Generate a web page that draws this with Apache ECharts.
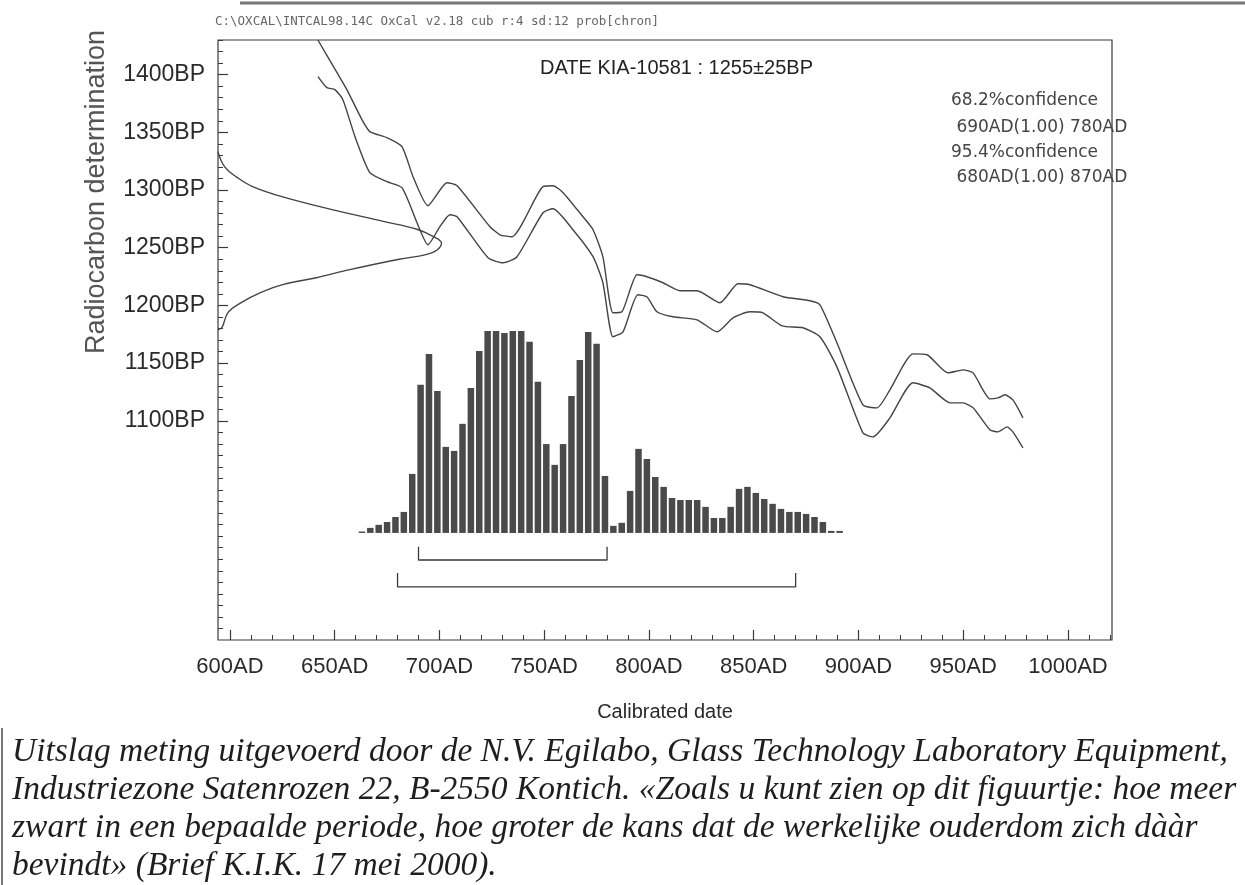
<!DOCTYPE html>
<html><head><meta charset="utf-8">
<script src="https://cdn.jsdelivr.net/npm/echarts@6/dist/echarts.min.js"></script>
<style>html,body{margin:0;padding:0;background:#fff}#c{width:1245px;height:885px}</style>
</head><body><div id="c"></div>
<script>
// ---- data ----
const xTickLabels = [600, 650, 700, 750, 800, 850, 900, 950, 1000];
const yTickLabels = [1100, 1150, 1200, 1250, 1300, 1350, 1400];

// calibration curve (upper / lower 1-sigma band)
const upperYears = [642,651.1,655.8,663,666.8,674.9,682.1,687.4,694.5,703.6,708.4,724.1,728.9,734.6,749.4,754.2,759,768.5,773.3,778,782.8,787.1,794.3,799,806.7,814.8,822.9,833.9,842.5,848.2,864,876.8,881.6,889.7,902.1,908.8,915,926,932.7,942.7,949.9,954.7,962.8,966.6,969.9,973.7,978.5];
const upperBP = [1430,1401.7,1387,1361,1350.6,1345.4,1337.6,1311.5,1286.4,1306.3,1303.7,1268.2,1261.2,1259.5,1302.9,1303.7,1297.7,1276.8,1265.6,1242.2,1193.6,1194.5,1226.5,1224.8,1219.6,1212.7,1212.7,1202.3,1218.7,1217.9,1207.5,1204,1200.5,1167.6,1113.8,1111.2,1126.8,1158,1157.2,1141.5,1144.1,1141.5,1119,1119.9,1122.5,1118.1,1102.5];
const lowerYears = [642,646.3,650.1,653.9,659.7,666.8,674.9,682.1,689.3,694.5,700.2,705,708.4,723.2,730.3,737,749.4,754.2,763.7,773.3,778,782.8,787.6,794.7,799,803.8,811.5,822.9,832.5,840.1,848.2,854.4,863.5,873.5,881.6,889.7,902.1,906.9,915,926,934.1,943.7,949.9,954.7,962.8,966.6,970.9,973.7,978.5];
const lowerBP = [1398.3,1388.7,1387,1378.3,1346.2,1315,1307.2,1302,1271.6,1252.6,1268.2,1278.6,1276.8,1241.3,1236.9,1242.2,1280.3,1283.8,1265.6,1242.2,1219.6,1172.8,1177.1,1209.2,1207.5,1194.5,1190.1,1187.5,1177.1,1189.2,1194.5,1193.6,1182.3,1180.6,1172.8,1146.7,1089.5,1086,1102.5,1132.9,1128.5,1115.5,1115.5,1111.2,1092.1,1090.4,1094.7,1090.4,1076.5];

// radiocarbon measurement distribution (BP, relative probability)
const probBP = [1333,1320,1311,1303,1294,1283,1273,1266,1260,1254,1248,1244,1240,1231,1224,1218,1211,1202,1194,1181,1179];
const probValue = [0,0.03,0.085,0.155,0.29,0.51,0.735,0.89,0.96,1.0,0.98,0.93,0.81,0.59,0.44,0.29,0.19,0.10,0.045,0.018,0];

// calibrated date histogram (bin centre year AD, relative probability)
const binYears = [663,667,671,675,679,683,687,691,695,699,703,707,711,715,719,723,727,731,735,739,743,747,751,755,759,763,767,771,775,779,783,787,791,795,799,803,807,811,815,819,823,827,831,835,839,843,847,851,855,859,863,867,871,875,879,883,887,891];
const binProb = [0.007,0.025,0.04,0.054,0.079,0.104,0.292,0.733,0.886,0.703,0.426,0.406,0.54,0.718,0.901,1,1,0.99,1,1,0.946,0.748,0.44,0.337,0.44,0.678,0.856,0.995,0.936,0.282,0.035,0.05,0.208,0.416,0.366,0.277,0.228,0.173,0.163,0.163,0.163,0.129,0.074,0.074,0.129,0.218,0.228,0.198,0.168,0.144,0.119,0.104,0.104,0.094,0.079,0.054,0.01,0.01];

// confidence ranges (AD)
const range68 = [690, 780];
const range95 = [680, 870];

const headerText = 'C:\\OXCAL\\INTCAL98.14C OxCal v2.18 cub r:4 sd:12 prob[chron]';
const titleText = 'DATE KIA-10581 : 1255\u00B125BP';
const confLines = ['68.2%confidence', ' 690AD(1.00) 780AD', '95.4%confidence', ' 680AD(1.00) 870AD'];
const xAxisTitle = 'Calibrated date';
const yAxisTitle = 'Radiocarbon determination';
const captionLines = [
  'Uitslag meting uitgevoerd door de N.V. Egilabo, Glass Technology Laboratory Equipment,',
  'Industriezone Satenrozen 22, B-2550 Kontich. \u00ABZoals u kunt zien op dit figuurtje: hoe meer',
  'zwart in een bepaalde periode, hoe groter de kans dat de werkelijke ouderdom zich d\u00E0\u00E0r',
  'bevindt\u00BB (Brief K.I.K. 17 mei 2000).'
];

// ---- chart ----
const ink = '#3a3a3a';
const X_MIN = 594.3, X_MAX = 1021, Y_MIN = 910, Y_MAX = 1430;
const xMinor = []; for (let v = 600; v <= 1020; v += 10) xMinor.push(v);
const yMinor = []; for (let v = 920; v <= 1430; v += 10) yMinor.push(v);

const zip = (a, b) => a.map((v, i) => [v, b[i]]);
const chart = echarts.init(document.getElementById('c'), null, {renderer: 'canvas'});

function bracket(r, top, bottom) {
  return {
    type: 'line', xAxisIndex: 0, yAxisIndex: 2, symbol: 'none', silent: true,
    lineStyle: {color: ink, width: 1.3},
    data: [[r[0], top], [r[0], bottom], [r[1], bottom], [r[1], top]]
  };
}

const txt = (x, y, text, font, extra) => Object.assign({
  type: 'text', x: x, y: y, silent: true,
  style: Object.assign({text: text, font: font, fill: '#2a2a2a', align: 'left', verticalAlign: 'middle', textAlign: 'left', textVerticalAlign: 'middle'}, extra || {})
});

const graphics = [
  {type: 'line', silent: true, shape: {x1: 240, y1: 3, x2: 1245, y2: 3}, style: {stroke: '#777', lineWidth: 3}},
  {type: 'line', silent: true, shape: {x1: 2, y1: 728, x2: 2, y2: 885}, style: {stroke: '#777', lineWidth: 2}},
  txt(215, 22, headerText, '12.5px "DejaVu Sans Mono"', {fill: '#666'}),
  txt(540, 68, titleText, '20px "Liberation Sans"', {fill: '#222'}),
  txt(665, 712, xAxisTitle, '20px "Liberation Sans"', {align: 'center', textAlign: 'center'}),
  Object.assign(txt(97, 192, yAxisTitle, '27px "Liberation Sans"', {align: 'center', textAlign: 'center', fill: '#555'}), {rotation: Math.PI / 2})
];
const confY = [101, 128, 153, 178];
confLines.forEach((t, i) => graphics.push(txt(951, confY[i], t, '17px "DejaVu Sans"', {fill: '#444'})));
const capY = [752, 790, 828, 866];
captionLines.forEach((t, i) => graphics.push(txt(12, capY[i], t, 'italic 33.5px "Liberation Serif"', {fill: '#1e1e1e'})));

const lbl = {fontSize: 23, fontFamily: 'Liberation Sans', color: '#2a2a2a'};
chart.setOption({
  animation: false,
  backgroundColor: '#fff',
  grid: {left: 218, right: 133, top: 40, bottom: 245, show: true, borderColor: ink, borderWidth: 1.2, backgroundColor: 'transparent'},
  xAxis: [
    {type: 'value', min: X_MIN, max: X_MAX, position: 'bottom',
     axisLine: {show: false, onZero: false}, splitLine: {show: false},
     axisTick: {show: true, inside: true, length: 10, customValues: xTickLabels, lineStyle: {color: ink, width: 1.2}},
     axisLabel: Object.assign({show: true, customValues: xTickLabels, formatter: v => v + 'AD', margin: 16, fontSize: 22}, {fontFamily: lbl.fontFamily, color: lbl.color})},
    {type: 'value', min: X_MIN, max: X_MAX, position: 'bottom',
     axisLine: {show: false, onZero: false}, splitLine: {show: false}, axisLabel: {show: false},
     axisTick: {show: true, inside: true, length: 5, customValues: xMinor, lineStyle: {color: ink, width: 1}}},
    {type: 'value', min: 0, max: 4, show: false, axisLine: {onZero: false}}
  ],
  yAxis: [
    {type: 'value', min: Y_MIN, max: Y_MAX, position: 'left',
     axisLine: {show: false, onZero: false}, splitLine: {show: false},
     axisTick: {show: true, inside: true, length: 10, customValues: yTickLabels, lineStyle: {color: ink, width: 1.2}},
     axisLabel: Object.assign({show: true, customValues: yTickLabels, formatter: v => v + 'BP', margin: 13}, lbl)},
    {type: 'value', min: Y_MIN, max: Y_MAX, position: 'left',
     axisLine: {show: false, onZero: false}, splitLine: {show: false}, axisLabel: {show: false},
     axisTick: {show: true, inside: true, length: 5, customValues: yMinor, lineStyle: {color: ink, width: 1}}},
    {type: 'value', min: -0.53, max: 2.44, show: false, axisLine: {onZero: false}}
  ],
  series: [
    {type: 'line', name: 'upper', xAxisIndex: 0, yAxisIndex: 0, symbol: 'none', smooth: 0.2, clip: true,
     lineStyle: {color: '#444', width: 1.4}, data: zip(upperYears, upperBP)},
    {type: 'line', name: 'lower', xAxisIndex: 0, yAxisIndex: 0, symbol: 'none', smooth: 0.2, clip: true,
     lineStyle: {color: '#444', width: 1.4}, data: zip(lowerYears, lowerBP)},
    {type: 'line', name: 'measurement', xAxisIndex: 2, yAxisIndex: 0, symbol: 'none', smooth: 0.4, clip: true,
     lineStyle: {color: '#444', width: 1.4}, data: zip(probValue, probBP)},
    {type: 'bar', name: 'calibrated', xAxisIndex: 0, yAxisIndex: 2, barWidth: 6.5,
     itemStyle: {color: '#4a4a4a'}, data: zip(binYears, binProb)},
    bracket(range68, -0.069, -0.134),
    bracket(range95, -0.198, -0.267)
  ],
  graphic: graphics
});
</script>
</body></html>
